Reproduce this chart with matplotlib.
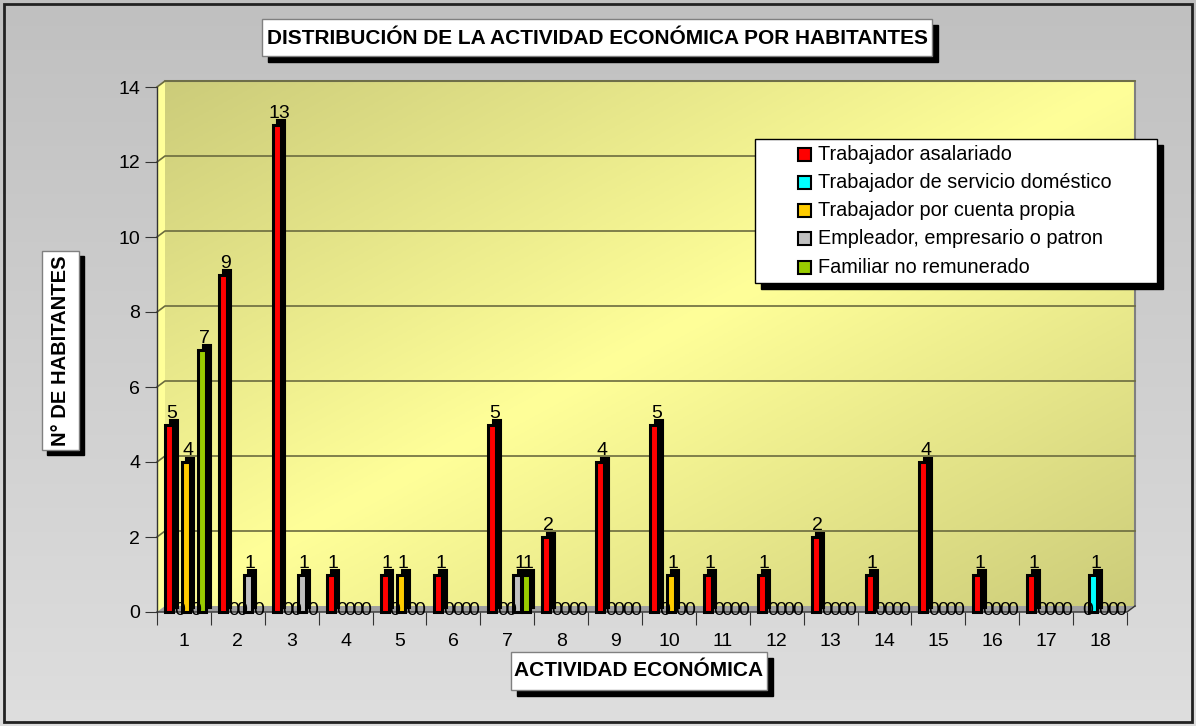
import numpy as np
import matplotlib.pyplot as plt
from matplotlib.patches import Rectangle, Polygon

plt.rcParams['font.family'] = ['Liberation Sans', 'DejaVu Sans']

# Datos del grafico
actividades = [str(i) for i in range(1, 19)]
series = ["Trabajador asalariado", "Trabajador de servicio doméstico",
          "Trabajador por cuenta propia", "Empleador, empresario o patron",
          "Familiar no remunerado"]
colores = ["#ff0000", "#00ffff", "#ffcc00", "#c0c0c0", "#99cc00"]

asalariado = [5, 9, 13, 1, 1, 1, 5, 2, 4, 5, 1, 1, 2, 1, 4, 1, 1, 0]
domestico = [0, 0, 0, 0, 0, 0, 0, 0, 0, 0, 0, 0, 0, 0, 0, 0, 0, 1]
propia = [4, 0, 0, 0, 1, 0, 0, 0, 0, 1, 0, 0, 0, 0, 0, 0, 0, 0]
empleador = [0, 1, 1, 0, 0, 0, 1, 0, 0, 0, 0, 0, 0, 0, 0, 0, 0, 0]
familiar = [7, 0, 0, 0, 0, 0, 1, 0, 0, 0, 0, 0, 0, 0, 0, 0, 0, 0]
valores = [asalariado, domestico, propia, empleador, familiar]

W, H = 1196, 726
fig = plt.figure(figsize=(W / 100, H / 100), dpi=100)

# Fondo gris degradado
bg = fig.add_axes([0, 0, 1, 1], zorder=0)
g = np.linspace(0, 1, 256)[:, None, None]
arriba = np.array([0xc0, 0xc0, 0xc0]) / 255
abajo = np.array([0xde, 0xde, 0xde]) / 255
bg.imshow(arriba + (abajo - arriba) * g * np.ones((1, 2, 1)), aspect='auto', extent=[0, W, H, 0])
bg.set_xlim(0, W)
bg.set_ylim(H, 0)
bg.axis('off')

# Area del grafico (plano frontal)
x0, x1, y0, y1 = 157, 1127, 612, 87
ax = fig.add_axes([x0 / W, 1 - y0 / H, (x1 - x0) / W, (y0 - y1) / H], zorder=1)
px = (x1 - x0) / 18
py = (y0 - y1) / 14
DX, DY = 8 / px, 6 / py

# Pared del fondo con degradado diagonal
n = 200
u = np.linspace(0, 1, n)[None, :]
v = np.linspace(0, 1, n)[:, None]
t = np.abs(u + v - 1)[..., None]
claro = np.array([0xff, 0xff, 0x99]) / 255
oscuro = np.array([0xcc, 0xcc, 0x7a]) / 255
ax.imshow(claro + (oscuro - claro) * t, aspect='auto', extent=[DX, 18 + DX, DY, 14 + DY],
          zorder=0, clip_on=False)

ax.add_patch(Polygon([(0, 0), (0, 14), (DX, 14 + DY), (DX, DY)], closed=True,
                     facecolor='#ffff99', edgecolor='none', zorder=0.5, clip_on=False))
ax.add_patch(Polygon([(0, 0), (18, 0), (18 + DX, DY), (DX, DY)], closed=True,
                     facecolor='#a0a0a0', edgecolor='none', zorder=0.5, clip_on=False))
ax.plot([DX, 18 + DX, 18 + DX], [14 + DY, 14 + DY, DY], color='#808080', lw=1.5,
        zorder=0.6, clip_on=False)

# Lineas de division
for yv in range(2, 15, 2):
    ax.plot([0, DX, 18 + DX], [yv, yv + DY, yv + DY], color='#6b6b3f', lw=1.2,
            zorder=1, clip_on=False)

# Ejes
ax.plot([0, 0], [0, 14], color='#333333', lw=1, zorder=2, clip_on=False)
ax.plot([0, 18, 18 + DX], [0, 0, DY], color='#333333', lw=1, zorder=2, clip_on=False)

ax.set_xlim(0, 18)
ax.set_ylim(0, 14)
ax.patch.set_visible(False)
for s in ax.spines.values():
    s.set_visible(False)

ax.set_xticks(np.arange(0, 19))
ax.set_xticklabels([])
ax.set_xticks(np.arange(18) + 0.5, minor=True)
ax.set_xticklabels(actividades, minor=True, fontsize=14)
ax.tick_params(axis='x', which='major', length=9, color='#333333', direction='out')
ax.tick_params(axis='x', which='minor', length=0, pad=15)
ax.set_yticks(range(0, 15, 2))
ax.set_yticklabels([str(i) for i in range(0, 15, 2)], fontsize=14)
ax.tick_params(axis='y', length=9, color='#333333', direction='out', pad=3)

# Barras pseudo 3D
off0, paso, ancho = 12 / px, 8.3 / px, 8 / px
sx, sy = 4.5 / px, 4.5 / py
centros = np.arange(18)
for k, (vals, c) in enumerate(zip(valores, colores)):
    vals = np.array(vals)
    xs = centros + off0 + k * paso
    m = vals > 0
    ax.bar(xs[m] + sx, vals[m], width=ancho, bottom=sy, color='black',
           edgecolor='black', linewidth=1.5, zorder=3 + 2 * k, clip_on=False)
    ax.bar(xs[m], vals[m], width=ancho, color=c, edgecolor='black', linewidth=2.2,
           zorder=4 + 2 * k, clip_on=False)
    for i, val in enumerate(vals):
        if val > 0:
            ax.text(xs[i] + sx / 2, val + sy + 2 / py, str(val), ha='center',
                    va='baseline', fontsize=14, zorder=20)
        else:
            ax.text(xs[i] + sx / 2, -3 / py, '0', ha='center', va='baseline',
                    fontsize=14, zorder=20, clip_on=False)

# Capa para cajas de texto (coordenadas en pixeles)
ov = fig.add_axes([0, 0, 1, 1], zorder=5)
ov.set_xlim(0, W)
ov.set_ylim(H, 0)
ov.axis('off')


def caja(xa, ya, xb, yb, sombra=6, borde='#808080'):
    ov.add_patch(Rectangle((xa + sombra, ya + sombra), xb - xa, yb - ya, color='black'))
    ov.add_patch(Rectangle((xa, ya), xb - xa, yb - ya, facecolor='white',
                           edgecolor=borde, lw=1))


ov.add_patch(Rectangle((4, 4), 1188, 718, fill=False, edgecolor='#222222', lw=2))

caja(262, 19, 932, 56)
ov.text(597.5, 38, "DISTRIBUCIÓN DE LA ACTIVIDAD ECONÓMICA POR HABITANTES",
        ha='center', va='center', fontsize=15, fontweight='bold')

caja(42, 251, 79, 450, sombra=5)
ov.text(60.5, 350.5, "N° DE HABITANTES", ha='center', va='center', rotation=90,
        fontsize=14.5, fontweight='bold')

caja(511, 652, 767, 690, sombra=6)
ov.text(639, 671, "ACTIVIDAD ECONÓMICA", ha='center', va='center',
        fontsize=15, fontweight='bold')

# Leyenda
caja(755, 139, 1157, 283, sombra=6, borde='black')
for k, (nombre, c) in enumerate(zip(series, colores)):
    yc = 154 + k * 28.3
    ov.add_patch(Rectangle((798, yc - 6.5), 13, 13, facecolor=c, edgecolor='black', lw=1.5))
    ov.text(818, yc, nombre, ha='left', va='center', fontsize=14.3)

fig.savefig("out.png", dpi=100)
